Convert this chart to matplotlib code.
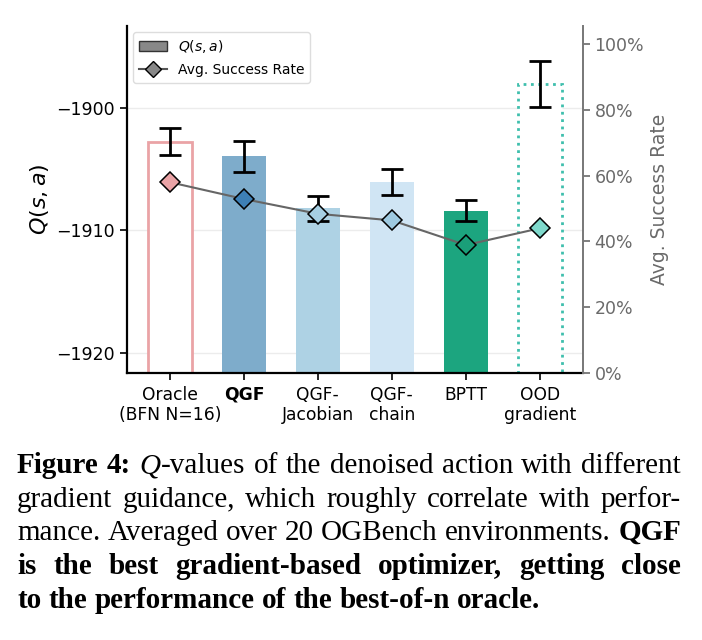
import numpy as np
import matplotlib
matplotlib.use("Agg")
import matplotlib.pyplot as plt
from matplotlib.patches import Patch
from matplotlib.lines import Line2D
from matplotlib.ticker import PercentFormatter

plt.rcParams["font.family"] = ["DejaVu Sans"]
plt.rcParams["mathtext.fontset"] = "dejavusans"

# ---------------- data ----------------
methods = ["Oracle\n(BFN N=16)", "QGF", "QGF-\nJacobian", "QGF-\nchain", "BPTT", "OOD\ngradient"]
q_values = [-1902.75, -1903.95, -1908.2, -1906.05, -1908.4, -1898.05]
q_errors = [1.13, 1.24, 1.0, 1.09, 0.85, 1.85]
success_rate = [0.58, 0.529, 0.484, 0.464, 0.389, 0.44]

bar_face = ["white", "#7eaccb", "#aed2e4", "#d0e5f4", "#1ca57f", "white"]
bar_edge = ["#eaa3a6", "#7eaccb", "#aed2e4", "#d0e5f4", "#1ca57f", "#3fbfad"]
bar_ls = ["-", "-", "-", "-", "-", ":"]
marker_face = ["#eaa3a6", "#3d7fb5", "#a6cfe3", "#9ecae1", "#1a9f79", "#7fd9cc"]

W, H = 702, 640
fig = plt.figure(figsize=(W / 100, H / 100), dpi=100)
ax = fig.add_axes([127 / W, 1 - 373 / H, (582.7 - 127) / W, (373 - 26) / H])

x = np.arange(len(methods))
base = -1930.0
ylim = (-1921.65, -1893.3)
heights = [v - base for v in q_values]
for i in range(len(methods)):
    filled = bar_face[i] != "white"
    ax.bar(x[i], heights[i], bottom=base, width=0.6,
           facecolor=bar_face[i], edgecolor=bar_edge[i],
           linewidth=0 if filled else 2.0, linestyle=bar_ls[i], zorder=2)
ax.errorbar(x, q_values, yerr=q_errors, fmt="none", ecolor="black",
            elinewidth=2, capsize=8, capthick=2, zorder=3)

ax.set_ylim(*ylim)
ax.set_xlim(-0.58, 5.58)
ax.set_yticks([-1920, -1910, -1900])
ax.set_yticklabels(["\u22121920", "\u22121910", "\u22121900"])
ax.grid(axis="y", color="#ececec", linewidth=1, zorder=0)
ax.set_axisbelow(True)
ax.set_xticks(x)
ax.set_xticklabels(methods, fontsize=12.3, linespacing=1.15)
ax.get_xticklabels()[1].set_fontweight("bold")
ax.tick_params(axis="y", labelsize=12.5, length=5, width=1.2)
ax.tick_params(axis="x", length=5, width=1.2, pad=4)
ax.set_ylabel("$Q(s, a)$", fontsize=16, labelpad=4)
for s in ["top", "right"]:
    ax.spines[s].set_visible(False)
for s in ["left", "bottom"]:
    ax.spines[s].set_linewidth(1.6)

ax2 = ax.twinx()
ax2.plot(x, success_rate, color="#666666", linewidth=1.5, zorder=3)
for i in range(len(methods)):
    ax2.plot(x[i], success_rate[i], marker="D", markersize=10.5,
             markerfacecolor=marker_face[i], markeredgecolor="black",
             markeredgewidth=1.1, linestyle="none", zorder=4)
ax2.set_ylim(0, 1.055)
ax2.set_yticks([0, 0.2, 0.4, 0.6, 0.8, 1.0])
ax2.yaxis.set_major_formatter(PercentFormatter(1.0, decimals=0))
ax2.tick_params(axis="y", colors="#6a6a6a", labelsize=12.5, length=5, width=1.2)
ax2.set_ylabel("Avg. Success Rate", color="#6a6a6a", fontsize=13.5, labelpad=4)
for s in ["top", "left", "bottom"]:
    ax2.spines[s].set_visible(False)
ax2.spines["right"].set_color("#777777")
ax2.spines["right"].set_linewidth(1.4)

handles = [
    Patch(facecolor="#888888", edgecolor="#333333", linewidth=1.0, label="$Q(s, a)$"),
    Line2D([0], [0], color="#555555", marker="D", markersize=8.5,
           markerfacecolor="#888888", markeredgecolor="black", label="Avg. Success Rate"),
]
ax2.legend(handles=handles, loc="upper left", fontsize=10, frameon=True,
           framealpha=1, edgecolor="#dddddd", borderaxespad=0.45, handlelength=2.0,
           labelspacing=0.6)

# ---------------- caption ----------------
caption = [
    ([[("Figure", "b")], [("4:", "b")], [("Q", "i"), ("-values", "r")], [("of", "r")], [("the", "r")],
      [("denoised", "r")], [("action", "r")], [("with", "r")], [("different", "r")]], True),
    ([[(w, "r")] for w in "gradient guidance, which roughly correlate with perfor-".split()], True),
    ([[(w, "r")] for w in "mance. Averaged over 20 OGBench environments.".split()] + [[("QGF", "b")]], True),
    ([[(w, "b")] for w in "is the best gradient-based optimizer, getting close".split()], True),
    ([[(w, "b")] for w in "to the performance of the best-of-n oracle.".split()], False),
]
left_px, right_px = 17, 681
baselines = [473, 507, 540, 574, 608]
family = "Liberation Serif"
size = 21.0
renderer = fig.canvas.get_renderer()


def style_kw(st):
    kw = dict(family=family, fontsize=size)
    if st == "b":
        kw["fontweight"] = "bold"
    if st == "i":
        kw["fontstyle"] = "italic"
    return kw


def run_width(txt, st):
    t = fig.text(0, 0, txt, **style_kw(st))
    w = t.get_window_extent(renderer).width
    t.remove()
    return w


target = right_px - left_px
sp = run_width("a a", "r") - run_width("aa", "r")
for (words, justify), yb in zip(caption, baselines):
    widths = [sum(run_width(t, s) for t, s in w) for w in words]
    if justify and len(words) > 1:
        gap = (target - sum(widths)) / (len(words) - 1)
    else:
        gap = sp
    xp = left_px
    for w, ww in zip(words, widths):
        xr = xp
        for t, s in w:
            txt = fig.text(xr / W, 1 - yb / H, t, va="baseline", ha="left", **style_kw(s))
            xr += txt.get_window_extent(renderer).width
        xp += ww + gap

fig.savefig("out.png", dpi=100)
